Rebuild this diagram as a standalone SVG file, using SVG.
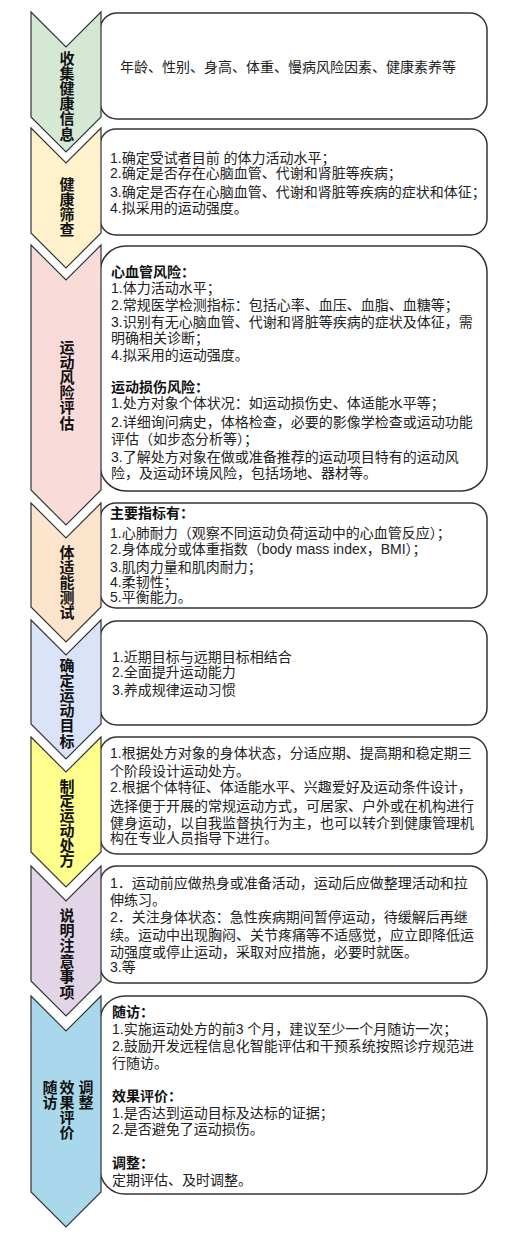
<svg xmlns="http://www.w3.org/2000/svg" width="512" height="1240" viewBox="0 0 512 1240">
<style>
.box{fill:#fff;stroke:#333;stroke-width:1.5}
.chev{stroke:#333;stroke-width:1.2}
.lbl{font-family:"Liberation Sans","Noto Sans CJK SC",sans-serif;font-size:15px;font-weight:bold;fill:#111;text-anchor:middle}
.t{font-family:"Liberation Sans","Noto Sans CJK SC",sans-serif;font-size:14px;fill:#222}
.b{font-weight:bold;fill:#111}
</style>
<rect width="512" height="1240" fill="#fff"/>
<g id="s1">
<rect class="box" x="100" y="13" width="387" height="106" rx="17"/>
<polygon class="chev" fill="#d4e8d4" points="31,12 66,47 101,12 101,117 66,152 31,117"/>
<text class="lbl"><tspan x="67" y="63.5">收</tspan><tspan x="67" y="78.7">集</tspan><tspan x="67" y="93.9">健</tspan><tspan x="67" y="109.1">康</tspan><tspan x="67" y="124.3">信</tspan><tspan x="67" y="139.5">息</tspan></text>
<text class="t" x="120" y="72">年龄、性别、身高、体重、慢病风险因素、健康素养等</text>
</g>
<g id="s2">
<rect class="box" x="100" y="129" width="387" height="106" rx="16"/>
<polygon class="chev" fill="#fff2cc" points="31,128 66,163 101,128 101,233 66,268 31,233"/>
<text class="lbl"><tspan x="67" y="190">健</tspan><tspan x="67" y="205">康</tspan><tspan x="67" y="220">筛</tspan><tspan x="67" y="235">查</tspan></text>
<text class="t"><tspan x="110" y="163">1.确定受试者目前 的体力活动水平；</tspan><tspan x="110" y="178">2.确定是否存在心脑血管、代谢和肾脏等疾病；</tspan><tspan x="110" y="197">3.确定是否存在心脑血管、代谢和肾脏等疾病的症状和体征；</tspan><tspan x="110" y="213">4.拟采用的运动强度。</tspan></text>
</g>
<g id="s3">
<rect class="box" x="100" y="246" width="387" height="245" rx="26"/>
<polygon class="chev" fill="#f9dcda" points="31,245 66,280 101,245 101,490 66,525 31,490"/>
<text class="lbl"><tspan x="67" y="352.5">运</tspan><tspan x="67" y="367.7">动</tspan><tspan x="67" y="382.9">风</tspan><tspan x="67" y="398.1">险</tspan><tspan x="67" y="413.3">评</tspan><tspan x="67" y="428.5">估</tspan></text>
<text class="t"><tspan class="b" x="111" y="277">心血管风险：</tspan><tspan x="111" y="293">1.体力活动水平；</tspan><tspan x="111" y="310">2.常规医学检测指标：包括心率、血压、血脂、血糖等；</tspan><tspan x="111" y="327">3.识别有无心脑血管、代谢和肾脏等疾病的症状及体征，需</tspan><tspan x="111" y="343">明确相关诊断；</tspan><tspan x="111" y="360">4.拟采用的运动强度。</tspan><tspan class="b" x="111" y="392">运动损伤风险：</tspan><tspan x="111" y="408">1.处方对象个体状况：如运动损伤史、体适能水平等；</tspan><tspan x="111" y="427">2.详细询问病史，体格检查，必要的影像学检查或运动功能</tspan><tspan x="111" y="444">评估（如步态分析等）；</tspan><tspan x="111" y="462">3.了解处方对象在做或准备推荐的运动项目特有的运动风</tspan><tspan x="111" y="478">险，及运动环境风险，包括场地、器材等。</tspan></text>
</g>
<g id="s4">
<rect class="box" x="100" y="503" width="387" height="105" rx="16"/>
<polygon class="chev" fill="#fde4cc" points="31,503 66,538 101,503 101,607 66,642 31,607"/>
<text class="lbl"><tspan x="67" y="557.5">体</tspan><tspan x="67" y="572.5">适</tspan><tspan x="67" y="587.5">能</tspan><tspan x="67" y="602.5">测</tspan><tspan x="67" y="617.5">试</tspan></text>
<text class="t"><tspan class="b" x="110" y="518">主要指标有：</tspan><tspan x="110" y="538">1.心肺耐力（观察不同运动负荷运动中的心血管反应）；</tspan><tspan x="110" y="554">2.身体成分或体重指数（body mass index，BMI）；</tspan><tspan x="110" y="572">3.肌肉力量和肌肉耐力；</tspan><tspan x="110" y="587">4.柔韧性；</tspan><tspan x="110" y="602">5.平衡能力。</tspan></text>
</g>
<g id="s5">
<rect class="box" x="100" y="621" width="387" height="104" rx="17"/>
<polygon class="chev" fill="#dae3f7" points="31,620 66,655 101,620 101,724 66,759 31,724"/>
<text class="lbl"><tspan x="67" y="670.5">确</tspan><tspan x="67" y="685.7">定</tspan><tspan x="67" y="700.9">运</tspan><tspan x="67" y="716.1">动</tspan><tspan x="67" y="731.3">目</tspan><tspan x="67" y="746.5">标</tspan></text>
<text class="t"><tspan x="112" y="662">1.近期目标与远期目标相结合</tspan><tspan x="112" y="677">2.全面提升运动能力</tspan><tspan x="112" y="695">3.养成规律运动习惯</tspan></text>
</g>
<g id="s6">
<rect class="box" x="100" y="737" width="387" height="117" rx="17"/>
<polygon class="chev" fill="#fefe8c" points="31,737 66,772 101,737 101,852 66,887 31,852"/>
<text class="lbl"><tspan x="67" y="791.5">制</tspan><tspan x="67" y="806.3">定</tspan><tspan x="67" y="821.1">运</tspan><tspan x="67" y="835.9">动</tspan><tspan x="67" y="850.7">处</tspan><tspan x="67" y="865.5">方</tspan></text>
<text class="t"><tspan x="110" y="758">1.根据处方对象的身体状态，分适应期、提高期和稳定期三</tspan><tspan x="110" y="776">个阶段设计运动处方。</tspan><tspan x="110" y="792">2.根据个体特征、体适能水平、兴趣爱好及运动条件设计，</tspan><tspan x="110" y="811">选择便于开展的常规运动方式，可居家、户外或在机构进行</tspan><tspan x="110" y="828">健身运动，以自我监督执行为主，也可以转介到健康管理机</tspan><tspan x="110" y="843">构在专业人员指导下进行。</tspan></text>
</g>
<g id="s7">
<rect class="box" x="100" y="866" width="387" height="117" rx="17"/>
<polygon class="chev" fill="#e1d5e7" points="31,866 66,901 101,866 101,981 66,1016 31,981"/>
<text class="lbl"><tspan x="67" y="920.5">说</tspan><tspan x="67" y="935.9">明</tspan><tspan x="67" y="951.3">注</tspan><tspan x="67" y="966.7">意</tspan><tspan x="67" y="982.1">事</tspan><tspan x="67" y="997.5">项</tspan></text>
<text class="t"><tspan x="110" y="888">1．运动前应做热身或准备活动，运动后应做整理活动和拉</tspan><tspan x="110" y="905">伸练习。</tspan><tspan x="110" y="922">2．关注身体状态：急性疾病期间暂停运动，待缓解后再继</tspan><tspan x="110" y="940">续。运动中出现胸闷、关节疼痛等不适感觉，应立即降低运</tspan><tspan x="110" y="957">动强度或停止运动，采取对应措施，必要时就医。</tspan><tspan x="110" y="972">3.等</tspan></text>
</g>
<g id="s8">
<rect class="box" x="100" y="996" width="387" height="198" rx="25"/>
<polygon class="chev" fill="#a9d8ec" points="31,996 66,1031 101,996 101,1192 66,1227 31,1192"/>
<text class="lbl"><tspan x="50" y="1092.5">随</tspan><tspan x="50" y="1107.5">访</tspan><tspan x="67" y="1092.5">效</tspan><tspan x="67" y="1107.5">果</tspan><tspan x="67" y="1122.5">评</tspan><tspan x="67" y="1137.5">价</tspan><tspan x="86" y="1092.5">调</tspan><tspan x="86" y="1107.5">整</tspan></text>
<text class="t"><tspan class="b" x="112" y="1017">随访：</tspan><tspan x="112" y="1034">1.实施运动处方的前3 个月，建议至少一个月随访一次；</tspan><tspan x="112" y="1051">2.鼓励开发远程信息化智能评估和干预系统按照诊疗规范进</tspan><tspan x="112" y="1068">行随访。</tspan><tspan class="b" x="112" y="1101">效果评价：</tspan><tspan x="112" y="1118">1.是否达到运动目标及达标的证据；</tspan><tspan x="112" y="1134">2.是否避免了运动损伤。</tspan><tspan class="b" x="112" y="1168">调整：</tspan><tspan x="112" y="1185">定期评估、及时调整。</tspan></text>
</g>
</svg>
